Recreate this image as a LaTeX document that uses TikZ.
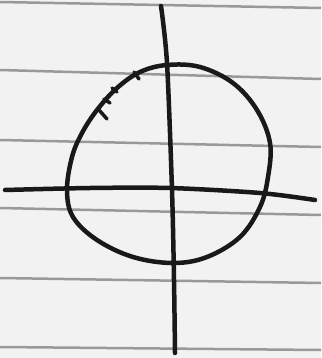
\documentclass[tikz,border=0pt]{standalone}
\usepackage{tikz}

\begin{document}
\begin{tikzpicture}[x=1pt,y=-1pt,
			ink/.style={
				draw=black!90,
				line width=4.5pt,
				line cap=round,
				line join=round
			},
			rule/.style={
				draw=black!40,
				line width=2.5pt
			},
			tick/.style={
				draw=black!90,
				line width=3.5pt,
				line cap=round
			}]
			
			\useasboundingbox[fill=black!5](0,0)rectangle(321,358);
			
			\foreach \yl/\yr in {2/8,70/79,140/147,208/215,278/283,347/350}
				\draw[rule](0,\yl)--(321,\yr);
			
			\draw[ink]plot[smooth cycle,tension=0.6]coordinates{
				(67,190)(72,157)(82,133)(97,110)(117,88)(140,72)(167,65)(200,67)
				(233,83)(257,110)(270,143)(268,177)(260,207)(240,237)(207,257)
				(173,263)(133,257)(97,240)(73,217)};
			
			\draw[ink]plot[smooth,tension=0.5]coordinates{
				(5,190)(90,188)(170,188)(260,193)(315,200)};
			
			\draw[ink]plot[smooth,tension=0.5]coordinates{
				(161,6)(167,63)(172,190)(174,280)(175,353)};
			
			\coordinate(t1a)at(99,110);\coordinate(t1b)at(107,119);
			\coordinate(t2a)at(104,99);\coordinate(t2b)at(110,103);
			\coordinate(t3a)at(112,88);\coordinate(t3b)at(117,92);
			\coordinate(t4a)at(134,72);\coordinate(t4b)at(139,79);
			
			\draw[tick](t1a)--(t1b);
			\draw[tick](t2a)--(t2b);
			\draw[tick](t3a)--(t3b);
			\draw[tick](t4a)--(t4b);
			
		\end{tikzpicture}
\end{document}
